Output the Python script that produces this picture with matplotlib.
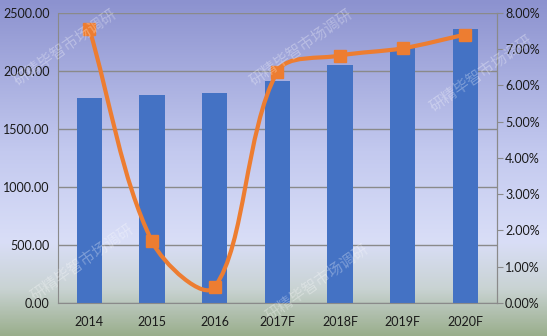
import numpy as np
import matplotlib
matplotlib.use("Agg")
import matplotlib.pyplot as plt
from matplotlib.path import Path
from matplotlib.patches import PathPatch
from matplotlib.colors import LinearSegmentedColormap
from matplotlib.ticker import FuncFormatter

years = ['2014', '2015', '2016', '2017F', '2018F', '2019F', '2020F']
sales = [1765, 1795, 1805, 1915, 2050, 2195, 2360]
growth = [7.56, 1.70, 0.44, 6.38, 6.82, 7.02, 7.40]

plt.rcParams['font.family'] = ['Lato', 'DejaVu Sans']

fig = plt.figure(figsize=(5.47, 3.36), dpi=100)

# background gradient: purple top, pale middle, green bottom
bg = fig.add_axes([0, 0, 1, 1])
cmap = LinearSegmentedColormap.from_list('bg', [
    (0.0, '#8c92cf'), (0.45, '#c3c9ef'), (0.72, '#d9def7'),
    (0.86, '#c9d3d3'), (1.0, '#9aae8c')])
grad = np.linspace(0, 1, 256).reshape(-1, 1)
bg.imshow(grad, aspect='auto', cmap=cmap, extent=[0, 1, 0, 1], origin='upper')
bg.set_axis_off()

ax = fig.add_axes([0.106, 0.098, 0.802, 0.864])
ax.patch.set_alpha(0)
x = np.arange(len(years))
ax.bar(x, sales, width=0.4, color='#4472c4', zorder=2)
ax.set_ylim(0, 2500)
ax.set_xlim(-0.5, len(years) - 0.5)
ax.set_yticks(np.arange(0, 2501, 500))
ax.yaxis.set_major_formatter(FuncFormatter(lambda v, p: f'{v:.2f}'))
ax.set_xticks(x)
ax.set_xticklabels(years)
ax.grid(axis='y', color='#8a8a8a', linewidth=1, zorder=0)
ax.set_axisbelow(True)
ax.spines['top'].set_visible(False)
for s in ['left', 'right', 'bottom']:
    ax.spines[s].set_color('#8a8a8a')
ax.tick_params(axis='both', length=0, labelsize=9, colors='#1a1a1a', pad=6)
ax.tick_params(axis='x', pad=9)

ax2 = ax.twinx()
ax2.set_ylim(0, 8)
ax2.set_yticks(np.arange(0, 8.01, 1))
ax2.yaxis.set_major_formatter(FuncFormatter(lambda v, p: f'{v:.2f}%'))
ax2.tick_params(axis='y', length=4, labelsize=9, colors='#1a1a1a', pad=2)
ax2.tick_params(axis='y', color='#8a8a8a')
for s in ['top', 'left', 'bottom']:
    ax2.spines[s].set_visible(False)
ax2.spines['right'].set_color('#8a8a8a')

# smoothed line: chord-length weighted Bezier in screen space
pts = ax2.transData.transform(np.column_stack([x, growth]).astype(float))
n = len(pts)
verts = [pts[0]]
codes = [Path.MOVETO]
for i in range(n - 1):
    p0 = pts[i - 1] if i > 0 else pts[i]
    p1 = pts[i]
    p2 = pts[i + 1]
    p3 = pts[i + 2] if i + 2 < n else pts[i + 1]
    d01 = np.linalg.norm(p1 - p0)
    d12 = np.linalg.norm(p2 - p1)
    d23 = np.linalg.norm(p3 - p2)
    c1 = p1 + (p2 - p0) * d12 / (3 * (d01 + d12)) if d01 > 0 else p1 + (p2 - p1) / 3
    c2 = p2 - (p3 - p1) * d12 / (3 * (d12 + d23)) if d23 > 0 else p2 - (p2 - p1) / 3
    verts += [c1, c2, p2]
    codes += [Path.CURVE4] * 3
verts = ax2.transData.inverted().transform(np.array(verts))
ax2.add_patch(PathPatch(Path(verts, codes), fill=False, edgecolor='#ed7d31',
                        linewidth=3, zorder=3, capstyle='round'))
ax2.plot(x, growth, linestyle='none', marker='s', markersize=9,
         color='#ed7d31', zorder=4)

# faint watermarks
wm_font = ['Noto Sans CJK SC', 'DejaVu Sans']
for (wx, wy) in [(0.12, 0.86), (0.55, 0.86), (0.88, 0.78), (0.15, 0.22),
                 (0.58, 0.16)]:
    fig.text(wx, wy, '研精毕智市场调研', rotation=35, fontsize=11,
             color='white', alpha=0.3, family=wm_font, ha='center', va='center')

fig.savefig('out.png', dpi=100)
